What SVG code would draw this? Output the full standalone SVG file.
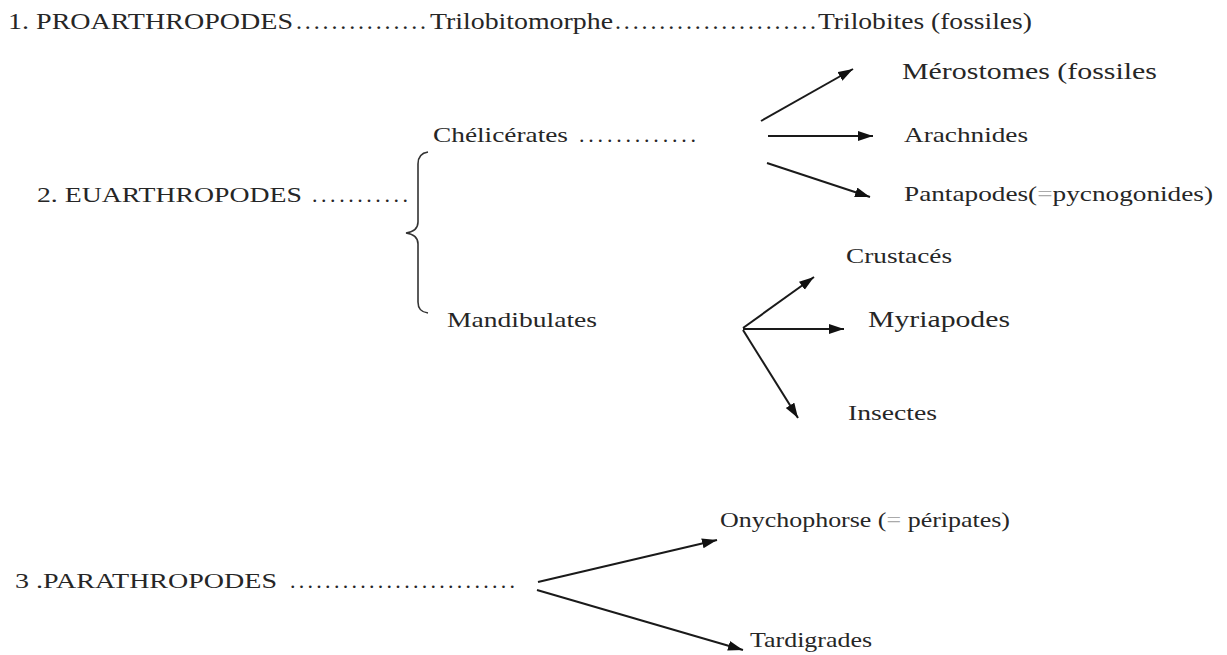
<svg xmlns="http://www.w3.org/2000/svg" width="1227" height="655" viewBox="0 0 1227 655">
<defs>
<style>
text{font-family:"Liberation Serif","Times New Roman",serif;fill:#262626;}
.t{font-size:22px;}
.big{font-size:24px;}
.dots{font-size:22px;}
.g{fill:#aaa;}
.c line{stroke:#1a1a1a;stroke-width:2;marker-end:url(#ah);}
.brace{fill:none;stroke:#333;stroke-width:1.6;}
</style>
<marker id="ah" markerUnits="userSpaceOnUse" markerWidth="16" markerHeight="11" refX="15" refY="5" orient="auto">
<path d="M0,0 L15,5 L0,10 z" fill="#111"/>
</marker>
</defs>
<rect width="1227" height="655" fill="#fff"/>

<g id="proarthropodes">
<text class="big" x="8" y="29" textLength="285" lengthAdjust="spacingAndGlyphs">1. PROARTHROPODES</text>
<text class="big" x="296" y="29" textLength="130" lengthAdjust="spacing">...............</text>
<text class="big" x="430" y="29" textLength="183" lengthAdjust="spacingAndGlyphs">Trilobitomorphe</text>
<text class="big" x="615" y="29" textLength="201" lengthAdjust="spacing">.......................</text>
<text class="big" x="818" y="29" textLength="214" lengthAdjust="spacingAndGlyphs">Trilobites (fossiles)</text>
</g>

<g id="euarthropodes">
<text class="t" x="37" y="202" textLength="265" lengthAdjust="spacingAndGlyphs">2. EUARTHROPODES</text>
<text class="dots" x="312" y="202" textLength="96" lengthAdjust="spacing">...........</text>
<path class="brace" d="M428,152 C421,153 418,157 418,164 L418,222 C418,229 413,232 406,233 C413,234 418,237 418,244 L418,302 C418,309 421,312 428,313"/>
</g>

<g id="chelicerates">
<text class="t" x="433" y="142" textLength="135" lengthAdjust="spacingAndGlyphs">Chélicérates</text>
<text class="dots" x="579" y="142" textLength="117" lengthAdjust="spacing">.............</text>
</g>

<g id="mandibulates">
<text class="t" x="447" y="327" textLength="150" lengthAdjust="spacingAndGlyphs">Mandibulates</text>
</g>

<g id="merostomes">
<text class="t" style="font-size:23px" x="902" y="79" textLength="255" lengthAdjust="spacingAndGlyphs">Mérostomes (fossiles</text>
</g>
<g id="arachnides">
<text class="t" style="font-size:21px" x="904" y="142" textLength="124" lengthAdjust="spacingAndGlyphs">Arachnides</text>
</g>
<g id="pantapodes">
<text class="t" style="font-size:21px" x="904" y="201" textLength="309" lengthAdjust="spacingAndGlyphs">Pantapodes(<tspan class="g">=</tspan>pycnogonides)</text>
</g>

<g id="crustaces">
<text class="t" x="846" y="263" textLength="106" lengthAdjust="spacingAndGlyphs">Crustacés</text>
</g>
<g id="myriapodes">
<text class="t" style="font-size:23px" x="868" y="327" textLength="142" lengthAdjust="spacingAndGlyphs">Myriapodes</text>
</g>
<g id="insectes">
<text class="t" x="848" y="420" textLength="89" lengthAdjust="spacingAndGlyphs">Insectes</text>
</g>

<g id="parathropodes">
<text class="t" x="15" y="588" textLength="262" lengthAdjust="spacingAndGlyphs">3 .PARATHROPODES</text>
<text class="dots" x="290" y="588" textLength="225" lengthAdjust="spacing">..........................</text>
</g>
<g id="onychophores">
<text class="t" x="720" y="527" textLength="290" lengthAdjust="spacingAndGlyphs">Onychophorse (<tspan class="g">=</tspan> péripates)</text>
</g>
<g id="tardigrades">
<text class="t" x="750" y="647" textLength="122" lengthAdjust="spacingAndGlyphs">Tardigrades</text>
</g>

<g id="connectors" class="c">
<line x1="761" y1="121" x2="853" y2="69"/>
<line x1="768" y1="136" x2="873" y2="136"/>
<line x1="767" y1="163" x2="870" y2="197"/>
<line x1="743" y1="328" x2="814" y2="277"/>
<line x1="743" y1="329" x2="844" y2="329"/>
<line x1="743" y1="330" x2="798" y2="418"/>
<line x1="538" y1="582" x2="717" y2="540"/>
<line x1="537" y1="590" x2="743" y2="650"/>
</g>
</svg>
